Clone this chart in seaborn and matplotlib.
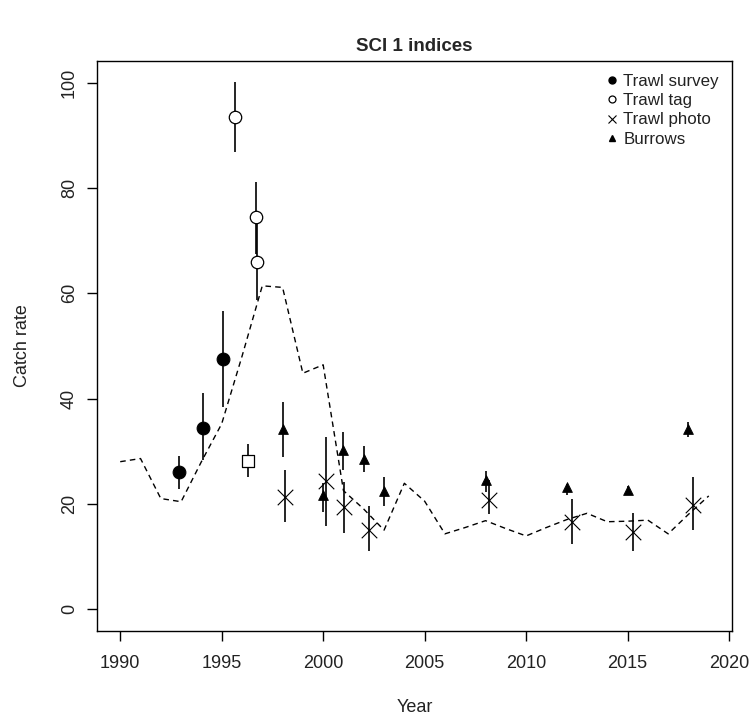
import matplotlib
matplotlib.use("Agg")
import matplotlib.pyplot as plt
import seaborn as sns
from matplotlib.lines import Line2D

# fitted index (dashed line), one value per year
model_year = list(range(1990, 2020))
model_val = [28.0, 28.6, 21.0, 20.4, 28.0, 35.2, 48.0, 61.4, 61.1, 44.8,
             46.4, 22.5, 19.0, 15.0, 23.9, 20.5, 14.3, 15.5, 16.8, 15.3,
             13.9, 15.5, 17.0, 18.2, 16.6, 16.7, 16.9, 14.3, 18.0, 21.5]

# Trawl survey
survey_year = [1992.9, 1994.1, 1995.05]
survey_val = [26.0, 34.4, 47.5]
survey_lo = [22.9, 28.3, 38.3]
survey_hi = [29.0, 41.0, 56.7]

# Trawl tag
tag_year = [1995.67, 1996.7, 1996.75]
tag_val = [93.4, 74.5, 66.0]
tag_lo = [86.9, 67.5, 58.7]
tag_hi = [100.1, 81.2, 73.5]

# odd one out (open square, not in legend)
sq_year = [1996.3]
sq_val = [28.2]
sq_lo = [25.0]
sq_hi = [31.3]

# Trawl photo
photo_year = [1998.1, 2000.15, 2001.05, 2002.25, 2008.15, 2012.25, 2015.25, 2018.2]
photo_val = [21.3, 24.3, 19.4, 15.1, 20.7, 16.6, 14.7, 19.8]
photo_lo = [16.6, 15.8, 14.4, 11.1, 18.0, 12.4, 11.1, 15.0]
photo_hi = [26.4, 32.6, 24.2, 19.6, 24.5, 21.0, 18.2, 25.0]

# Burrows
burrow_year = [1998.0, 2000.0, 2001.0, 2002.0, 2003.0, 2008.0, 2012.0, 2015.0, 2018.0]
burrow_val = [34.2, 21.7, 30.3, 28.6, 22.4, 24.5, 23.2, 22.7, 34.3]
burrow_lo = [28.9, 18.5, 26.4, 26.1, 19.6, 22.3, 21.7, 21.7, 32.7]
burrow_hi = [39.4, 24.0, 33.7, 31.0, 25.0, 26.3, 23.8, 23.3, 35.6]

sns.set_style("white")
plt.rcParams['font.family'] = ['Liberation Sans', 'DejaVu Sans']

fig = plt.figure(figsize=(7.53, 7.2), dpi=100)
ax = fig.add_axes([0.1284, 0.124, 0.8441, 0.7913])

sns.lineplot(x=model_year, y=model_val, ax=ax, color="black", lw=1.0,
             linestyle=(0, (4, 3)))

# error bars
for yr, lo, hi in [(survey_year, survey_lo, survey_hi), (tag_year, tag_lo, tag_hi),
                   (sq_year, sq_lo, sq_hi), (photo_year, photo_lo, photo_hi),
                   (burrow_year, burrow_lo, burrow_hi)]:
    ax.vlines(yr, lo, hi, color="black", lw=1.2)

sns.scatterplot(x=survey_year, y=survey_val, ax=ax, marker="o", s=85,
                color="black", edgecolor="black", zorder=3)
sns.scatterplot(x=tag_year, y=tag_val, ax=ax, marker="o", s=80,
                facecolor="white", edgecolor="black", linewidth=0.9, zorder=3)
sns.scatterplot(x=sq_year, y=sq_val, ax=ax, marker="s", s=70,
                facecolor="white", edgecolor="black", linewidth=0.9, zorder=3)
sns.scatterplot(x=photo_year, y=photo_val, ax=ax, marker="x", s=125,
                color="black", linewidth=0.8, zorder=3)
sns.scatterplot(x=burrow_year, y=burrow_val, ax=ax, marker="^", s=50,
                color="black", edgecolor="black", zorder=3)

ax.set_xlim(1988.84, 2020.16)
ax.set_ylim(-4.1, 104.1)
ax.set_xticks(range(1990, 2021, 5))
ax.set_yticks(range(0, 101, 20))
for sp in ax.spines.values():
    sp.set_color("black")
    sp.set_linewidth(1.0)
ax.tick_params(axis="both", direction="out", length=7.5, width=1, color="black",
               labelsize=13, bottom=True, left=True, labelcolor="#222222")
ax.tick_params(axis="x", pad=10)
ax.tick_params(axis="y", pad=6)
for lab in ax.get_yticklabels():
    lab.set_rotation(90)
    lab.set_va("center")

ax.set_xlabel("Year", fontsize=13, color="#222222")
ax.set_ylabel("Catch rate", fontsize=13, color="#222222")
ax.xaxis.set_label_coords(0.5, -0.135)
ax.yaxis.set_label_coords(-0.1175, 0.5)
ax.xaxis.label.set_va("center")
ax.yaxis.label.set_va("center")
ax.set_title("SCI 1 indices", fontsize=13.5, fontweight="bold", pad=7)

handles = [
    Line2D([], [], marker="o", color="black", ls="none", markersize=5),
    Line2D([], [], marker="o", markerfacecolor="white", markeredgecolor="black",
           markeredgewidth=0.9, ls="none", markersize=5),
    Line2D([], [], marker="x", color="black", ls="none", markersize=5.5, markeredgewidth=0.8),
    Line2D([], [], marker="^", color="black", ls="none", markersize=5),
]
ax.legend(handles, ["Trawl survey", "Trawl tag", "Trawl photo", "Burrows"],
          loc="upper right", bbox_to_anchor=(0.995, 0.995), frameon=False,
          fontsize=12.2, handlelength=0.6, handletextpad=0.35, labelspacing=0.25,
          borderaxespad=0.2, labelcolor="#222222")

fig.savefig("out.png", dpi=100)
